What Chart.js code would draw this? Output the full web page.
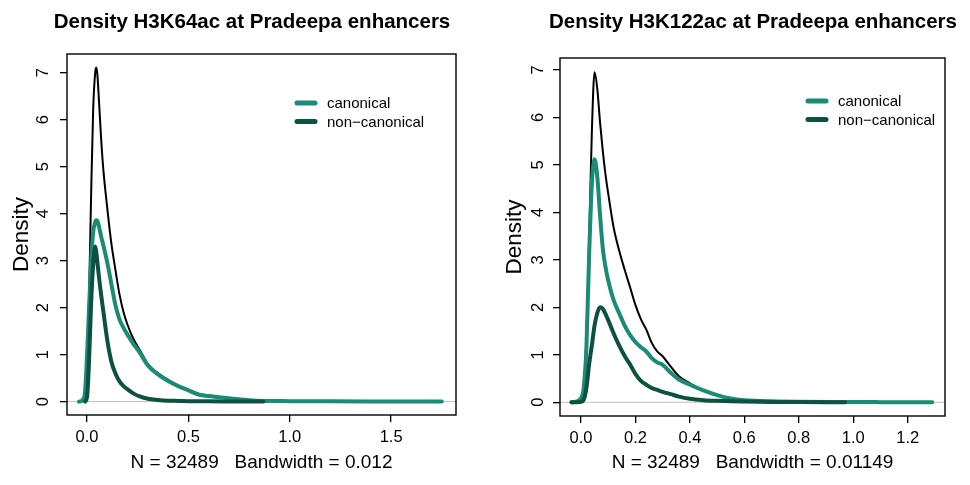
<!DOCTYPE html>
<html>
<head>
<meta charset="utf-8">
<title>Density H3K64ac / H3K122ac at Pradeepa enhancers</title>
<script src="https://cdn.jsdelivr.net/npm/chart.js@4.4.1/dist/chart.umd.min.js"></script>
<style>
    body { margin: 0; background: #ffffff; }
    .wrap { display: flex; width: 970px; height: 485px; }
    .panel { width: 485px; height: 485px; }
</style>
</head>
<body>
<div class="wrap">
    <div class="panel"><canvas id="leftChart" width="485" height="485"></canvas></div>
    <div class="panel"><canvas id="rightChart" width="485" height="485"></canvas></div>
</div>
<script>
// ---- data: H3K64ac (left panel) ----
const k64X = [-0.04, -0.03, -0.02, -0.01, 0, 0.01, 0.02, 0.03, 0.04, 0.045, 0.05, 0.06, 0.07, 0.08,
    0.10, 0.12, 0.14, 0.16, 0.18, 0.20, 0.23, 0.26, 0.30, 0.35, 0.40, 0.45, 0.50, 0.55, 0.60,
    0.70, 0.80, 0.87, 1.0, 1.2, 1.4, 1.6, 1.75];
const k64All = [null, 0, 0.02, 0.08, 0.6, 2.3, 4.4, 6.2, 7.0, 7.11, 7.0, 6.3, 5.55, 4.95,
    4.1, 3.36, 2.8, 2.28, 1.9, 1.63, 1.32, 1.1, 0.8, 0.6, 0.46, 0.34, 0.25, 0.17, 0.13,
    0.075, 0.035, 0.02, 0.012, 0.006, 0.004, 0.003, 0];
const k64Canonical = [0, 0.01, 0.05, 0.2, 1.0, 2.0, 3.0, 3.6, 3.82, 3.86, 3.85, 3.7, 3.5, 3.33,
    2.95, 2.5, 2.05, 1.75, 1.57, 1.42, 1.22, 1.04, 0.77, 0.58, 0.44, 0.33, 0.24, 0.15, 0.12,
    0.07, 0.03, 0.015, 0.01, 0.005, 0.003, 0.002, 0];
const k64NonCanonical = [null, null, null, 0, 0.1, 0.9, 2.1, 2.9, 3.3, 3.2, 3.0, 2.6, 2.25, 1.93,
    1.3, 0.85, 0.6, 0.43, 0.33, 0.26, 0.17, 0.11, 0.06, 0.035, 0.02, 0.015, 0.01, 0.008, 0.006,
    0.004, 0.002, 0, null, null, null, null, null];
const k64XTicks = [0, 0.5, 1.0, 1.5];

// ---- data: H3K122ac (right panel) ----
const k122X = [-0.035, -0.02, -0.01, 0, 0.01, 0.02, 0.03, 0.04, 0.05, 0.06, 0.07, 0.08, 0.09,
    0.10, 0.12, 0.14, 0.16, 0.18, 0.20, 0.22, 0.24, 0.26, 0.28, 0.30, 0.33, 0.36, 0.40, 0.45,
    0.50, 0.55, 0.60, 0.70, 0.80, 0.97, 1.1, 1.29];
const k122All = [0, 0.01, 0.05, 0.1, 0.3, 1.4, 3.4, 5.7, 6.95, 6.6, 5.9, 5.3, 4.8,
    4.4, 3.68, 3.2, 2.8, 2.43, 2.05, 1.75, 1.53, 1.25, 1.07, 0.97, 0.75, 0.55, 0.4, 0.25,
    0.15, 0.08, 0.05, 0.025, 0.015, 0.005, 0.003, 0];
const k122Canonical = [0, 0.01, 0.03, 0.08, 0.3, 1.15, 3.1, 4.6, 5.12, 4.75, 3.95, 3.25, 2.85,
    2.57, 2.15, 1.88, 1.62, 1.42, 1.27, 1.16, 1.07, 0.93, 0.84, 0.79, 0.62, 0.48, 0.37, 0.25,
    0.15, 0.08, 0.045, 0.02, 0.01, 0.005, 0.003, 0];
const k122NonCanonical = [0, 0, 0.005, 0.01, 0.05, 0.3, 0.8, 1.2, 1.62, 1.88, 2.0, 1.97, 1.86,
    1.73, 1.45, 1.2, 0.98, 0.8, 0.6, 0.45, 0.37, 0.3, 0.26, 0.22, 0.17, 0.12, 0.075, 0.045,
    0.03, 0.02, 0.015, 0.008, 0.004, 0, null, null];
const k122XTicks = [0, 0.2, 0.4, 0.6, 0.8, 1.0, 1.2];

const yTicks = [0, 1, 2, 3, 4, 5, 6, 7];
const seriesNames = ['canonical', 'non\u2212canonical'];
const canonicalColor = '#1a8c76';
const nonCanonicalColor = '#0d5143';

const fontFamily = '"Liberation Sans", Arial, Helvetica, sans-serif';
Chart.defaults.font.family = fontFamily;
Chart.defaults.color = '#000000';

// turn an x list and a y list into {x, y} points, skipping the empty ends
function toPoints(xs, ys) {
    const pts = [];
    xs.forEach((x, i) => {
        if (ys[i] !== null) pts.push({ x: x, y: ys[i] });
    });
    return pts;
}

// zero line under the curves; box, main title and legend on top
const framePlugin = {
    id: 'frame',
    beforeDatasetsDraw(chart) {
        const ctx = chart.ctx;
        const area = chart.chartArea;
        const py = chart.scales.y.getPixelForValue(0);
        ctx.save();
        ctx.strokeStyle = '#bebebe';
        ctx.lineWidth = 1;
        ctx.beginPath();
        ctx.moveTo(area.left, py);
        ctx.lineTo(area.right, py);
        ctx.stroke();
        ctx.restore();
    },
    afterDraw(chart, args, opts) {
        const ctx = chart.ctx;
        const area = chart.chartArea;
        ctx.save();
        ctx.strokeStyle = '#000000';
        ctx.lineWidth = 1.4;
        ctx.strokeRect(area.left, area.top, area.right - area.left, area.bottom - area.top);

        // main title (drawn here so it is not squeezed to the box width)
        ctx.fillStyle = '#000000';
        ctx.font = 'bold 20.5px ' + fontFamily;
        ctx.textAlign = 'center';
        ctx.textBaseline = 'middle';
        ctx.fillText(opts.title, opts.titleX, 22);

        // legend
        const colors = [canonicalColor, nonCanonicalColor];
        ctx.lineCap = 'round';
        ctx.lineWidth = 5;
        ctx.font = '15px ' + fontFamily;
        ctx.textAlign = 'left';
        seriesNames.forEach((name, i) => {
            const y = opts.legendY + i * opts.legendGap;
            ctx.strokeStyle = colors[i];
            ctx.beginPath();
            ctx.moveTo(opts.legendX, y);
            ctx.lineTo(opts.legendX + 18, y);
            ctx.stroke();
            ctx.fillText(name, opts.legendX + 30, y + 1);
        });
        ctx.restore();
    }
};

function makeChart(canvasId, cfg) {
    const ctx = document.getElementById(canvasId).getContext('2d');
    return new Chart(ctx, {
        type: 'line',
        data: {
            datasets: [
                {
                    label: 'all',
                    data: toPoints(cfg.x, cfg.all),
                    borderColor: '#000000',
                    borderWidth: 2,
                    order: 3
                },
                {
                    label: seriesNames[0],
                    data: toPoints(cfg.x, cfg.canonical),
                    borderColor: canonicalColor,
                    borderWidth: 4,
                    order: 2
                },
                {
                    label: seriesNames[1],
                    data: toPoints(cfg.x, cfg.nonCanonical),
                    borderColor: nonCanonicalColor,
                    borderWidth: 4,
                    order: 1
                }
            ]
        },
        options: {
            responsive: false,
            animation: false,
            events: [],
            datasets: {
                line: {
                    pointRadius: 0,
                    cubicInterpolationMode: 'monotone',
                    borderCapStyle: 'round',
                    borderJoinStyle: 'round',
                    fill: false
                }
            },
            layout: {
                padding: { left: 0, right: 485 - cfg.plotRight, top: cfg.plotTop, bottom: 0 }
            },
            scales: {
                x: {
                    type: 'linear',
                    min: cfg.xMin,
                    max: cfg.xMax,
                    afterBuildTicks: scale => { scale.ticks = cfg.xTicks.map(v => ({ value: v })); },
                    afterFit: scale => { scale.height = 485 - cfg.plotBottom; },
                    border: { display: false },
                    grid: {
                        drawOnChartArea: false,
                        drawTicks: true,
                        tickLength: 7,
                        color: '#000000',
                        lineWidth: 1.3
                    },
                    ticks: {
                        autoSkip: false,
                        maxRotation: 0,
                        padding: 6,
                        font: { size: 16.5 },
                        callback: v => v.toFixed(1)
                    },
                    title: {
                        display: true,
                        text: cfg.subtitle,
                        font: { size: 19 },
                        padding: { top: 0, bottom: 11 }
                    }
                },
                y: {
                    type: 'linear',
                    min: cfg.yMin,
                    max: cfg.yMax,
                    afterBuildTicks: scale => { scale.ticks = yTicks.map(v => ({ value: v })); },
                    afterFit: scale => { scale.width = cfg.plotLeft; },
                    border: { display: false },
                    grid: {
                        drawOnChartArea: false,
                        drawTicks: true,
                        tickLength: 7,
                        color: '#000000',
                        lineWidth: 1.3
                    },
                    ticks: {
                        autoSkip: false,
                        minRotation: 90,
                        maxRotation: 90,
                        crossAlign: 'center',
                        padding: cfg.yTickPad,
                        font: { size: 16.5 },
                        callback: v => String(v)
                    },
                    title: {
                        display: true,
                        text: 'Density',
                        font: { size: 22.5 },
                        padding: { top: cfg.yTitlePad, bottom: 0 }
                    }
                }
            },
            plugins: {
                legend: { display: false },
                tooltip: { enabled: false },
                title: { display: false },
                frame: {
                    title: cfg.title,
                    titleX: cfg.titleX,
                    legendX: cfg.legendX,
                    legendY: cfg.legendY,
                    legendGap: cfg.legendGap
                }
            }
        },
        plugins: [framePlugin]
    });
}

makeChart('leftChart', {
    title: 'Density H3K64ac at Pradeepa enhancers',
    subtitle: 'N = 32489   Bandwidth = 0.012',
    x: k64X,
    all: k64All,
    canonical: k64Canonical,
    nonCanonical: k64NonCanonical,
    xTicks: k64XTicks,
    xMin: -0.099, xMax: 1.82,
    yMin: -0.285, yMax: 7.395,
    plotLeft: 67, plotRight: 456, plotTop: 54, plotBottom: 415,
    titleX: 252,
    yTickPad: 12, yTitlePad: 8,
    legendX: 297, legendY: 103, legendGap: 18.5
});

makeChart('rightChart', {
    title: 'Density H3K122ac at Pradeepa enhancers',
    subtitle: 'N = 32489   Bandwidth = 0.01149',
    x: k122X,
    all: k122All,
    canonical: k122Canonical,
    nonCanonical: k122NonCanonical,
    xTicks: k122XTicks,
    xMin: -0.077, xMax: 1.337,
    yMin: -0.289, yMax: 7.25,
    plotLeft: 75, plotRight: 460, plotTop: 58, plotBottom: 416,
    titleX: 268,
    yTickPad: 10, yTitlePad: 16,
    legendX: 323, legendY: 101, legendGap: 18.5
});
</script>
</body>
</html>
